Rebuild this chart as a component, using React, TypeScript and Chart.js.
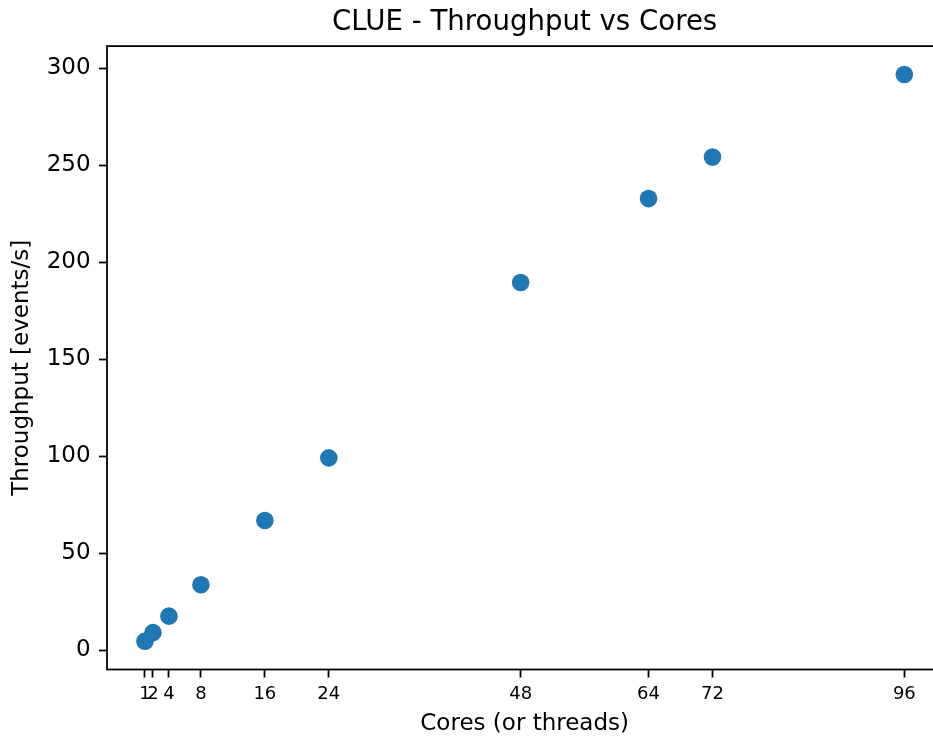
import React, { useEffect, useRef } from "react";
import { Chart, registerables } from "chart.js";

Chart.register(...registerables);

// Measured throughput for the CLUE benchmark at each core/thread count
const cores = [1, 2, 4, 8, 16, 24, 48, 64, 72, 96];
const throughput = [4.6, 9.0, 17.5, 33.7, 66.8, 99.1, 189.5, 232.8, 254.2, 296.8];

const xTickValues = [1, 2, 4, 8, 16, 24, 48, 64, 72, 96];
const yTickValues = [0, 50, 100, 150, 200, 250, 300];

const titleText = "CLUE - Throughput vs Cores";
const xTitle = "Cores (or threads)";
const yTitle = "Throughput [events/s]";

const FONT = "'DejaVu Sans', 'Liberation Sans', sans-serif";
const DOT = "#1f77b4";

// The axes box runs a little past the right edge of the figure
const PLOT_RIGHT = 942.3;

// 5% breathing room around the data, like matplotlib's autoscale
function paddedRange(values: number[]) {
  const lo = Math.min(...values);
  const hi = Math.max(...values);
  const m = (hi - lo) * 0.05;
  return [lo - m, hi + m];
}

// Stretch the plot area (and everything centred on it) out to PLOT_RIGHT
const widenPlot = {
  id: "widenPlot",
  afterLayout(chart: any) {
    const area = chart.chartArea;
    area.right = PLOT_RIGHT;
    area.width = PLOT_RIGHT - area.left;
    const xs = chart.scales.x;
    if (xs) {
      xs.right = PLOT_RIGHT;
      xs.width = PLOT_RIGHT - xs.left;
      xs.configure();
    }
    const tb = chart.titleBlock;
    if (tb) {
      tb.right = PLOT_RIGHT;
      tb.width = PLOT_RIGHT - tb.left;
    }
  },
};

// Draws the spines around the plotting area
const frame = {
  id: "frame",
  beforeDatasetsDraw(chart: any) {
    const { left, top, right, bottom } = chart.chartArea;
    const ctx = chart.ctx;
    ctx.save();
    ctx.strokeStyle = "#000";
    ctx.lineWidth = 1.8;
    ctx.strokeRect(left, top, right - left, bottom - top);
    ctx.restore();
  },
};

// Rotated y-axis label, sitting a little below the middle of the axis
const yLabel = {
  id: "yLabel",
  afterDraw(chart: any) {
    const { top, bottom } = chart.chartArea;
    const ctx = chart.ctx;
    ctx.save();
    ctx.translate(22.5, (top + bottom) / 2 + 10);
    ctx.rotate(-Math.PI / 2);
    ctx.fillStyle = "#000";
    ctx.font = `23px ${FONT}`;
    ctx.textAlign = "center";
    ctx.textBaseline = "middle";
    ctx.fillText(yTitle, 0, 0);
    ctx.restore();
  },
};

export default function App() {
  const canvasRef = useRef<HTMLCanvasElement | null>(null);

  useEffect(() => {
    const canvas = canvasRef.current;
    if (!canvas) return;
    const [xMin, xMax] = paddedRange(cores);
    const [yMin, yMax] = paddedRange(throughput);

    const chart = new Chart(canvas, {
      type: "scatter",
      data: {
        datasets: [
          {
            data: cores.map((c, i) => ({ x: c, y: throughput[i] })),
            backgroundColor: DOT,
            borderWidth: 0,
            pointRadius: 8.8,
            pointHoverRadius: 8.8,
          },
        ],
      },
      options: {
        responsive: false,
        animation: false,
        devicePixelRatio: 1,
        layout: { padding: { left: 0, top: 0, right: 0, bottom: 0 } },
        plugins: {
          legend: { display: false },
          tooltip: { enabled: false },
          title: {
            display: true,
            text: titleText,
            fullSize: false,
            color: "#000",
            font: { family: FONT, size: 27.6, weight: "normal", lineHeight: 1.2 },
            padding: { top: 6, bottom: 7 },
          },
        },
        scales: {
          x: {
            type: "linear",
            min: xMin,
            max: xMax,
            afterBuildTicks: (scale: any) => {
              scale.ticks = xTickValues.map((v) => ({ value: v }));
            },
            afterFit: (scale: any) => {
              scale.height = 68.5;
            },
            ticks: {
              autoSkip: false,
              maxRotation: 0,
              minRotation: 0,
              padding: 6,
              color: "#000",
              font: { family: FONT, size: 18 },
              callback: (v: any) => String(v),
            },
            grid: {
              display: true,
              drawOnChartArea: false,
              drawTicks: true,
              tickLength: 8,
              tickColor: "#000",
              tickWidth: 1.8,
            },
            border: { display: false },
            title: {
              display: true,
              text: xTitle,
              color: "#000",
              font: { family: FONT, size: 23, lineHeight: 1.2 },
              padding: { top: 0, bottom: 0 },
            },
          },
          y: {
            type: "linear",
            min: yMin,
            max: yMax,
            afterBuildTicks: (scale: any) => {
              scale.ticks = yTickValues.map((v) => ({ value: v }));
            },
            afterFit: (scale: any) => {
              scale.width = 107;
            },
            ticks: {
              autoSkip: false,
              padding: 8.4,
              color: "#000",
              font: { family: FONT, size: 23 },
              callback: (v: any) => String(v),
            },
            grid: {
              display: true,
              drawOnChartArea: false,
              drawTicks: true,
              tickLength: 8,
              tickColor: "#000",
              tickWidth: 1.8,
            },
            border: { display: false },
          },
        },
      },
      plugins: [widenPlot, frame, yLabel],
    });

    return () => chart.destroy();
  }, []);

  return (
    <div style={{ position: "fixed", left: 0, top: 0, width: 933, height: 738, background: "#fff" }}>
      <canvas ref={canvasRef} width={933} height={738} style={{ display: "block" }} />
    </div>
  );
}
